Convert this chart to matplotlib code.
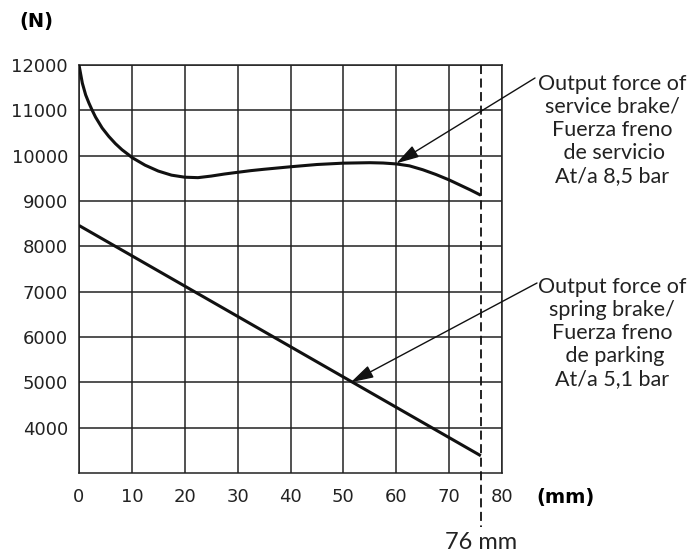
"""Output force vs stroke for a brake chamber (service + spring brake)."""

import matplotlib
matplotlib.use("Agg")
import matplotlib.pyplot as plt

# ── Data ──
stroke_service = [0, 0.63, 1.26, 1.88, 2.5, 3.13, 4.38, 5.63, 6.89, 8.14, 9.38,
                  10, 12.5, 15, 17.5, 20, 22.5, 25, 27.5, 30, 32.5, 35, 40,
                  45, 50, 55, 57.5, 60, 62.5, 65, 67.5, 70, 72, 74, 76]
force_service = [12000, 11600, 11340, 11160, 11000, 10850, 10610, 10425, 10265,
                 10130, 10020, 9960, 9790, 9660, 9570, 9525, 9515, 9550, 9595,
                 9633, 9670, 9700, 9755, 9805, 9835, 9845, 9838, 9818, 9775,
                 9690, 9585, 9465, 9355, 9245, 9127]

stroke_spring = [0, 76]
force_spring = [8460, 3380]

x_ticks = [0, 10, 20, 30, 40, 50, 60, 70, 80]
y_ticks = [4000, 5000, 6000, 7000, 8000, 9000, 10000, 11000, 12000]
max_stroke = 76

label_service = "Output force of\nservice brake/\nFuerza freno\n de servicio\nAt/a 8,5 bar"
label_spring = "Output force of\nspring brake/\nFuerza freno\n de parking\nAt/a 5,1 bar"

W, H = 690, 555
fig = plt.figure(figsize=(W / 100, H / 100), dpi=100)
ax = fig.add_axes([79 / W, 1 - 473 / H, (502 - 79) / W, (473 - 65) / H])

ink = "#111111"
ax.set_xlim(0, 80)
ax.set_ylim(3000, 12000)
ax.set_xticks(x_ticks)
ax.set_yticks(y_ticks)
ax.grid(True, color="#222222", linewidth=1.1)
ax.set_axisbelow(True)
for s in ax.spines.values():
    s.set_color("#222222")
    s.set_linewidth(1.1)
ax.tick_params(length=0, labelsize=13, colors="#222222")
ax.tick_params(axis="x", pad=11)
ax.tick_params(axis="y", pad=8)

ax.plot(stroke_service, force_service, color=ink, linewidth=2.2,
        solid_capstyle="butt", solid_joinstyle="round", zorder=3)
ax.plot(stroke_spring, force_spring, color=ink, linewidth=2.2,
        solid_capstyle="butt", zorder=3)

# ── 76 mm stroke marker ──
ax.plot([max_stroke, max_stroke], [12000, 1800], color=ink, linewidth=1.3,
        dashes=(5, 2.5), clip_on=False, zorder=4)
ax.text(max_stroke, 1470, f"{max_stroke} mm", ha="center", va="center",
        fontsize=17, family="Lato", color="#222222")

# ── Labels ──
fig.text(36 / W, 1 - 21 / H, "(N)", ha="center", va="center",
         fontsize=14, fontweight="bold", family="DejaVu Sans")
fig.text(565 / W, 1 - 498 / H, "(mm)", ha="center", va="center",
         fontsize=14, fontweight="bold", family="DejaVu Sans")

arrow = dict(arrowstyle="-|>,head_length=1.4,head_width=0.4",
             color=ink, linewidth=1.0, shrinkA=0, shrinkB=0, mutation_scale=10)
ax.annotate("", xy=(60, 9830), xytext=(535, H - 78),
            textcoords="figure pixels", arrowprops=arrow, zorder=5)
ax.annotate("", xy=(51.4, 5000), xytext=(537, H - 283),
            textcoords="figure pixels", arrowprops=arrow, zorder=5)

fig.text(612 / W, 1 - 130 / H, label_service, ha="center", va="center",
         fontsize=15.5, family="Lato", linespacing=1.2, color="#222222")
fig.text(612 / W, 1 - 333 / H, label_spring, ha="center", va="center",
         fontsize=15.5, family="Lato", linespacing=1.2, color="#222222")

fig.savefig("out.png", dpi=100)
